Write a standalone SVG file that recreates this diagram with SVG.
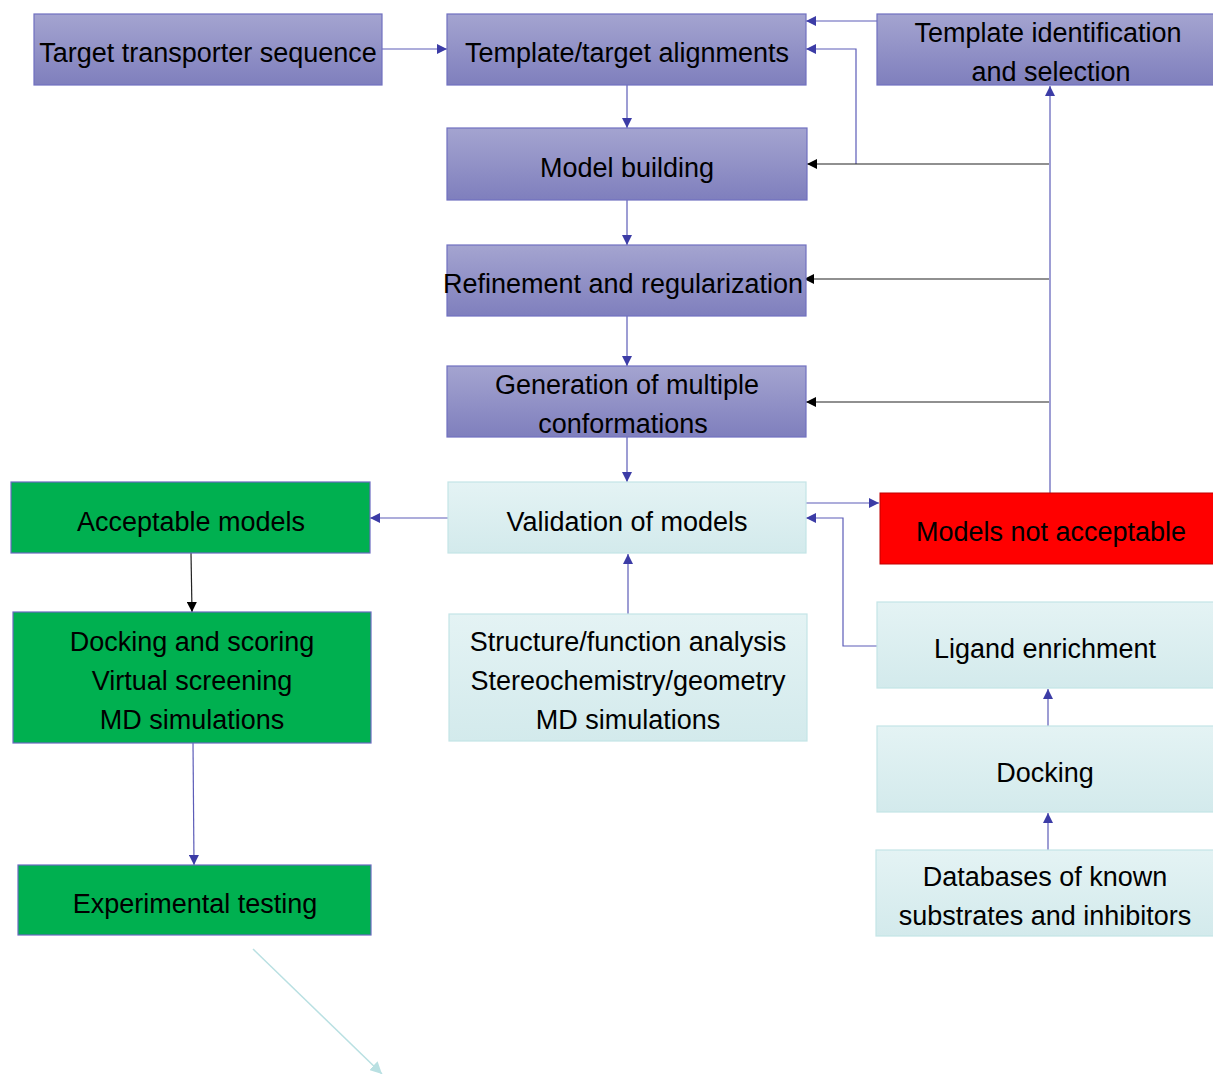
<svg xmlns="http://www.w3.org/2000/svg" width="1213" height="1074" viewBox="0 0 1213 1074">
<defs>
<linearGradient id="gp" x1="0" y1="0" x2="0" y2="1"><stop offset="0" stop-color="#a4a4d0"/><stop offset="1" stop-color="#7f7fbd"/></linearGradient>
<linearGradient id="gc" x1="0" y1="0" x2="0" y2="1"><stop offset="0" stop-color="#e4f3f4"/><stop offset="1" stop-color="#d3eaec"/></linearGradient>
<marker id="ab" viewBox="0 0 10 10" refX="10" refY="5" markerWidth="11" markerHeight="10" markerUnits="userSpaceOnUse" orient="auto"><path d="M0,0 L10,5 L0,10 z" fill="#3c3ca6"/></marker>
<marker id="ak" viewBox="0 0 10 10" refX="10" refY="5" markerWidth="11" markerHeight="10" markerUnits="userSpaceOnUse" orient="auto"><path d="M0,0 L10,5 L0,10 z" fill="#000"/></marker>
<marker id="ac" viewBox="0 0 10 10" refX="10" refY="5" markerWidth="12" markerHeight="12" markerUnits="userSpaceOnUse" orient="auto"><path d="M0,0 L10,5 L0,10 z" fill="#b9e0e2"/></marker>
</defs>
<style>
.p{fill:url(#gp);stroke:#7070c0;stroke-width:1.2}
.c{fill:url(#gc);stroke:#c4e4e6;stroke-width:1.2}
.g{fill:#00b050;stroke:#6a6ac0;stroke-width:1.2}
.r{fill:#ff0000;stroke:#c00000;stroke-width:1}
text{font-family:"Liberation Sans",Arial,sans-serif;font-size:27px;fill:#000;text-anchor:middle}
.lb{fill:none;stroke:#5c5cb8;stroke-width:1.2;marker-end:url(#ab)}
.lk{fill:none;stroke:#222;stroke-width:1.2;marker-end:url(#ak)}
</style>
<g id="connectors">
<path class="lb" d="M382,49 H447"/>
<path class="lb" d="M877,21 H806"/>
<path class="lb" d="M856,164 V49 H806"/>
<path class="lb" d="M1050,493 V86"/>
<path class="lk" d="M1049,164 H807"/>
<path class="lk" d="M1049,279 H804"/>
<path class="lk" d="M1049,402 H806"/>
<path class="lb" d="M627,85 V128"/>
<path class="lb" d="M627,200 V245"/>
<path class="lb" d="M627,316 V366"/>
<path class="lb" d="M627,437 V482"/>
<path class="lb" d="M806,503 H879"/>
<path class="lb" d="M877,646 H843 V518 H806"/>
<path class="lb" d="M448,518 H370"/>
<path class="lb" d="M628,614 V554"/>
<path class="lk" d="M191,553 L192,612"/>
<path class="lb" d="M193,743 L194,865"/>
<path class="lb" d="M1048,726 V689"/>
<path class="lb" d="M1048,850 V813"/>
<path d="M253,949 L382,1074" fill="none" stroke="#b9e0e2" stroke-width="1.5" marker-end="url(#ac)"/>
</g>
<g id="n-target"><rect class="p" x="34" y="14" width="348" height="71"/><text x="208" y="62">Target transporter sequence</text></g>
<g id="n-align"><rect class="p" x="447" y="14" width="359" height="71"/><text x="627" y="62">Template/target alignments</text></g>
<g id="n-tmplsel"><rect class="p" x="877" y="14" width="340" height="71"/><text x="1048" y="42">Template identification</text><text x="1051" y="81">and selection</text></g>
<g id="n-build"><rect class="p" x="447" y="128" width="360" height="72"/><text x="627" y="177">Model building</text></g>
<g id="n-refine"><rect class="p" x="447" y="245" width="359" height="71"/><text x="623" y="293">Refinement and regularization</text></g>
<g id="n-gen"><rect class="p" x="447" y="366" width="359" height="71"/><text x="627" y="394">Generation of multiple</text><text x="623" y="433">conformations</text></g>
<g id="n-valid"><rect class="c" x="448" y="482" width="358" height="71"/><text x="627" y="531">Validation of models</text></g>
<g id="n-notacc"><rect class="r" x="880" y="493" width="337" height="71"/><text x="1051" y="541">Models not acceptable</text></g>
<g id="n-acc"><rect class="g" x="11" y="482" width="359" height="71"/><text x="191" y="531">Acceptable models</text></g>
<g id="n-dock-score"><rect class="g" x="13" y="612" width="358" height="131"/><text x="192" y="651">Docking and scoring</text><text x="192" y="690">Virtual screening</text><text x="192" y="729">MD simulations</text></g>
<g id="n-struct"><rect class="c" x="449" y="614" width="358" height="127"/><text x="628" y="651">Structure/function analysis</text><text x="628" y="690">Stereochemistry/geometry</text><text x="628" y="729">MD simulations</text></g>
<g id="n-ligand"><rect class="c" x="877" y="602" width="340" height="86"/><text x="1045" y="658">Ligand enrichment</text></g>
<g id="n-docking"><rect class="c" x="877" y="726" width="340" height="86"/><text x="1045" y="782">Docking</text></g>
<g id="n-db"><rect class="c" x="876" y="850" width="341" height="86"/><text x="1045" y="886">Databases of known</text><text x="1045" y="925">substrates and inhibitors</text></g>
<g id="n-exp"><rect class="g" x="18" y="865" width="353" height="70"/><text x="195" y="913">Experimental testing</text></g>
</svg>
